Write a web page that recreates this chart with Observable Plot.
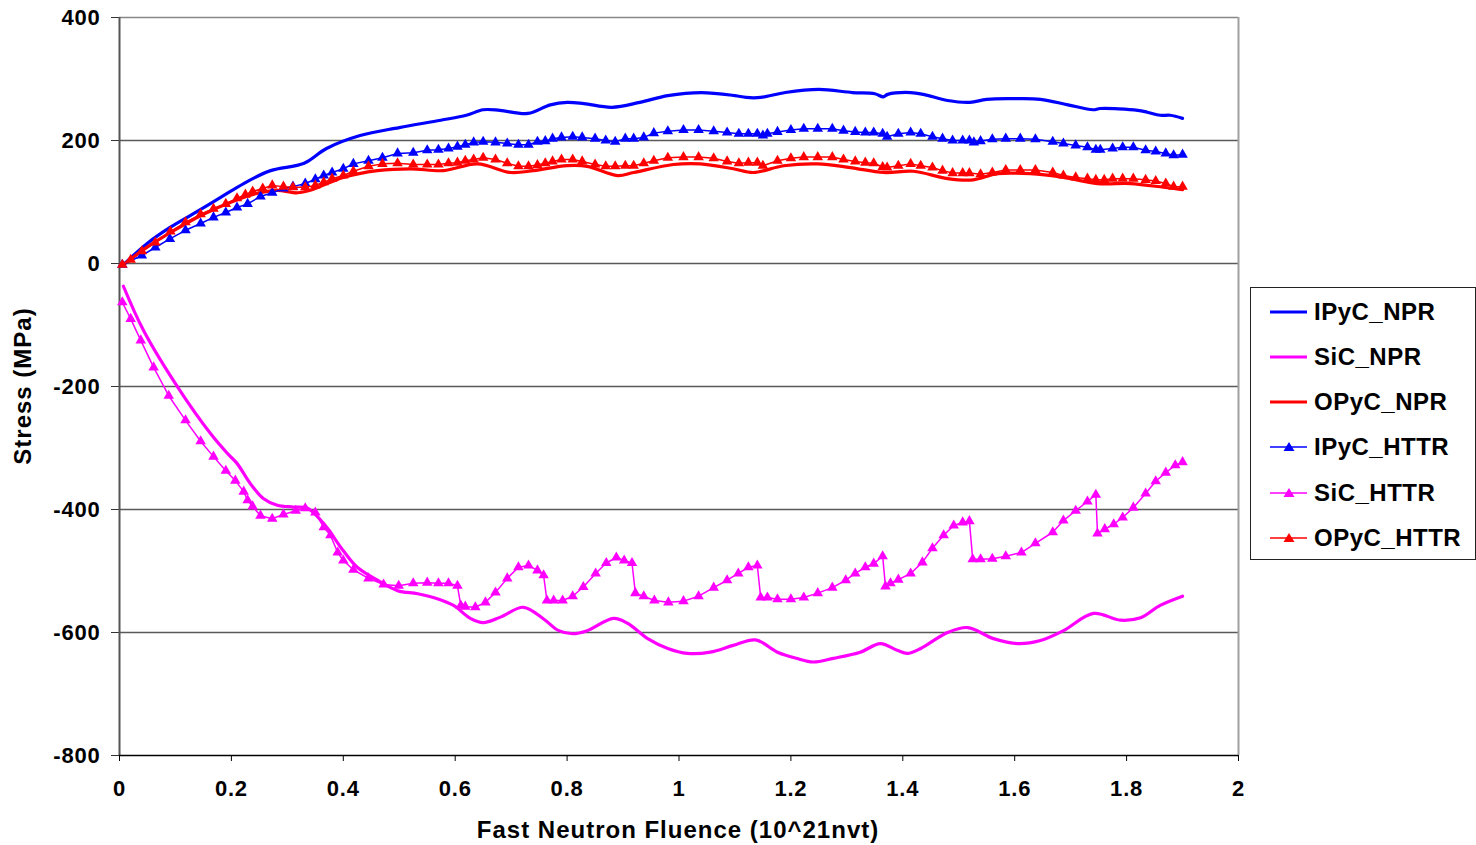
<!DOCTYPE html>
<html>
<head>
<meta charset="utf-8">
<script src="https://cdn.jsdelivr.net/npm/d3@7"></script>
<script src="https://cdn.jsdelivr.net/npm/@observablehq/plot@0.6"></script>
<style>
  body { margin: 0; background: #fff; }
  #wrap { position: relative; width: 1476px; height: 845px; font-family: "Liberation Sans", Arial, sans-serif; font-weight: bold; color: #000; }
  #chart { position: absolute; left: 0; top: 0; }
  .title { position: absolute; white-space: nowrap; font-size: 24px; line-height: 24px; letter-spacing: 1px; }
  #legend { position: absolute; left: 1250px; top: 287px; width: 224px; height: 271px; border: 1px solid #222; background: #fff; }
  .row { position: absolute; left: 19px; height: 30px; display: flex; align-items: center; font-size: 24px; letter-spacing: 0.5px; }
  .row svg { margin-right: 6px; }
</style>
</head>
<body>
<div id="wrap">
  <div id="chart"></div>
  <div class="title" id="xtitle" style="left:678px; top:818px; transform:translateX(-50%);">Fast Neutron Fluence (10^21nvt)</div>
  <div class="title" id="ytitle" style="left:23px; top:386px; transform:translate(-50%,-50%) rotate(-90deg);">Stress (MPa)</div>
  <div id="legend"></div>
</div>
<script>
// ---- data ----
const seriesNames = ["IPyC_NPR", "SiC_NPR", "OPyC_NPR", "IPyC_HTTR", "SiC_HTTR", "OPyC_HTTR"];
const seriesColors = ["#0000FF", "#FF00FF", "#FF0000", "#0000FF", "#FF00FF", "#FF0000"];
const xTicks = [0, 0.2, 0.4, 0.6, 0.8, 1, 1.2, 1.4, 1.6, 1.8, 2];
const yTicks = [-800, -600, -400, -200, 0, 200, 400];

const ipycNPR = [[0.007,-2],[0.05,33],[0.091,59],[0.13,80],[0.18,107],[0.222,130],[0.27,151],[0.33,163],[0.37,187],[0.43,208],[0.50,221],[0.574,233],[0.62,241],[0.65,250],[0.68,249],[0.73,244],[0.77,258],[0.80,262],[0.83,260],[0.88,254],[0.93,262],[0.98,273],[1.04,278],[1.10,273],[1.12,270],[1.146,270],[1.19,278],[1.25,283],[1.31,278],[1.35,276],[1.365,271],[1.373,275],[1.414,278],[1.437,275],[1.48,265],[1.52,262],[1.55,267],[1.60,268],[1.646,267],[1.695,258],[1.74,250],[1.753,252],[1.82,249],[1.837,246],[1.86,241],[1.878,241],[1.90,236]];

const sicNPR = [[0.007,-37],[0.043,-109],[0.104,-201],[0.163,-277],[0.193,-309],[0.21,-325],[0.234,-358],[0.257,-382],[0.282,-393],[0.311,-396],[0.336,-398],[0.365,-423],[0.40,-467],[0.425,-494],[0.461,-515],[0.497,-532],[0.533,-537],[0.568,-545],[0.597,-556],[0.627,-577],[0.65,-584],[0.681,-575],[0.722,-559],[0.758,-578],[0.785,-597],[0.81,-602],[0.836,-597],[0.883,-577],[0.908,-585],[0.944,-610],[0.98,-626],[1.015,-634],[1.056,-632],[1.097,-621],[1.137,-612],[1.176,-632],[1.21,-642],[1.24,-648],[1.276,-642],[1.324,-632],[1.36,-618],[1.39,-629],[1.408,-634],[1.432,-626],[1.48,-600],[1.516,-592],[1.562,-610],[1.605,-618],[1.646,-613],[1.687,-597],[1.741,-569],[1.789,-580],[1.825,-576],[1.86,-556],[1.90,-541]];

const opycNPR = [[0.007,-2],[0.05,27],[0.1,55],[0.15,80],[0.2,100],[0.25,115],[0.282,119],[0.318,115],[0.341,119],[0.40,140],[0.461,151],[0.52,154],[0.579,151],[0.64,162],[0.699,148],[0.74,151],[0.80,159],[0.836,158],[0.89,143],[0.919,148],[0.99,161],[1.038,162],[1.097,154],[1.133,148],[1.187,159],[1.248,162],[1.306,156],[1.366,148],[1.419,150],[1.48,138],[1.526,136],[1.569,146],[1.628,146],[1.687,140],[1.748,130],[1.807,130],[1.866,124],[1.90,120]];

const ipycHTTR = [[0.005,-2],[0.04,13],[0.064,26],[0.09,40],[0.118,54],[0.145,65],[0.168,75],[0.19,83],[0.21,91],[0.229,97],[0.252,109],[0.273,115],[0.293,122],[0.31,125],[0.332,130],[0.35,137],[0.365,143],[0.38,148],[0.40,154],[0.418,162],[0.445,167],[0.47,172],[0.497,179],[0.525,180],[0.55,184],[0.57,185],[0.588,187],[0.604,190],[0.618,193],[0.633,197],[0.65,198],[0.672,197],[0.693,195],[0.713,193],[0.731,193],[0.747,198],[0.761,199],[0.774,203],[0.79,205],[0.81,206],[0.827,205],[0.85,203],[0.869,200],[0.886,198],[0.904,203],[0.919,203],[0.937,205],[0.955,212],[0.98,215],[1.008,217],[1.035,217],[1.062,215],[1.086,213],[1.107,211],[1.124,211],[1.14,211],[1.15,208],[1.158,211],[1.176,214],[1.20,217],[1.223,219],[1.248,219],[1.274,219],[1.294,216],[1.315,214],[1.333,213],[1.348,213],[1.364,211],[1.372,206],[1.392,211],[1.414,213],[1.432,211],[1.453,206],[1.471,203],[1.489,200],[1.507,200],[1.519,200],[1.527,197],[1.539,199],[1.56,202],[1.584,203],[1.61,203],[1.637,202],[1.668,198],[1.687,195],[1.709,192],[1.73,189],[1.745,185],[1.753,185],[1.775,187],[1.793,189],[1.812,189],[1.834,184],[1.852,182],[1.87,179],[1.884,176],[1.90,177]];

const sicHTTR = [[0.005,-63],[0.02,-90],[0.038,-125],[0.061,-169],[0.088,-215],[0.118,-255],[0.145,-289],[0.168,-314],[0.19,-337],[0.207,-353],[0.222,-371],[0.229,-385],[0.238,-395],[0.252,-410],[0.273,-415],[0.293,-408],[0.315,-402],[0.332,-398],[0.35,-405],[0.365,-429],[0.377,-442],[0.39,-470],[0.40,-483],[0.418,-498],[0.445,-512],[0.472,-522],[0.499,-524],[0.525,-520],[0.55,-519],[0.57,-520],[0.588,-520],[0.604,-524],[0.61,-556],[0.618,-558],[0.636,-559],[0.654,-551],[0.672,-535],[0.693,-512],[0.713,-494],[0.731,-491],[0.747,-499],[0.758,-507],[0.764,-548],[0.776,-548],[0.792,-548],[0.81,-541],[0.829,-526],[0.851,-504],[0.87,-487],[0.888,-478],[0.902,-483],[0.916,-487],[0.922,-536],[0.937,-541],[0.956,-548],[0.981,-551],[1.008,-549],[1.035,-541],[1.062,-527],[1.086,-515],[1.106,-504],[1.124,-494],[1.14,-491],[1.146,-543],[1.158,-543],[1.176,-546],[1.2,-546],[1.223,-543],[1.248,-536],[1.274,-527],[1.298,-515],[1.315,-504],[1.333,-494],[1.348,-488],[1.364,-476],[1.369,-525],[1.378,-520],[1.392,-514],[1.414,-504],[1.435,-486],[1.453,-463],[1.473,-442],[1.491,-426],[1.507,-421],[1.519,-419],[1.525,-481],[1.539,-481],[1.56,-480],[1.584,-476],[1.612,-470],[1.637,-455],[1.668,-437],[1.687,-418],[1.709,-402],[1.73,-387],[1.745,-376],[1.748,-439],[1.761,-432],[1.777,-424],[1.793,-413],[1.812,-397],[1.834,-374],[1.852,-354],[1.87,-340],[1.887,-328],[1.90,-323]];

const opycHTTR = [[0.005,-2],[0.02,6],[0.04,20],[0.064,34],[0.091,52],[0.118,67],[0.145,80],[0.168,89],[0.19,97],[0.21,106],[0.225,112],[0.238,117],[0.256,122],[0.273,127],[0.293,125],[0.31,124],[0.332,124],[0.35,127],[0.365,132],[0.38,138],[0.40,143],[0.418,150],[0.445,158],[0.47,162],[0.497,163],[0.525,161],[0.55,161],[0.57,161],[0.588,163],[0.604,164],[0.618,167],[0.633,169],[0.65,172],[0.672,169],[0.693,163],[0.713,158],[0.731,158],[0.747,160],[0.761,163],[0.774,166],[0.79,169],[0.81,169],[0.827,166],[0.85,161],[0.869,158],[0.886,158],[0.904,159],[0.919,159],[0.937,163],[0.955,167],[0.98,172],[1.008,173],[1.035,173],[1.062,171],[1.086,166],[1.107,163],[1.124,164],[1.14,164],[1.15,159],[1.176,167],[1.20,171],[1.223,173],[1.248,173],[1.274,173],[1.294,169],[1.315,166],[1.333,164],[1.348,163],[1.364,157],[1.372,156],[1.392,159],[1.414,162],[1.432,159],[1.453,156],[1.471,151],[1.489,147],[1.507,147],[1.519,147],[1.539,145],[1.56,148],[1.584,152],[1.61,152],[1.637,152],[1.668,148],[1.687,143],[1.709,140],[1.73,138],[1.745,136],[1.76,136],[1.775,138],[1.793,138],[1.812,138],[1.834,136],[1.852,134],[1.87,130],[1.884,125],[1.90,125]];

const seriesData = [ipycNPR, sicNPR, opycNPR, ipycHTTR, sicHTTR, opycHTTR];

// ---- chart ----
const marks = [
  Plot.ruleY(yTicks.filter(v => v > -800 && v < 400), {stroke: "#5a5a5a", strokeWidth: 1.3}),
  Plot.ruleY([400], {stroke: "#888", strokeWidth: 1.3}),
  Plot.ruleX([2], {stroke: "#a0a0a0", strokeWidth: 2}),
  Plot.axisY({ticks: yTicks, tickSize: 8, tickPadding: 11, tickFormat: d => String(d), label: null, stroke: "#333", fill: "#000"}),
  Plot.axisX({ticks: xTicks, tickSize: 6, tickPadding: 19, tickFormat: d => String(d), label: null, stroke: "#000", fill: "#000"}),
  Plot.ruleX([0], {stroke: "#555", strokeWidth: 2}),
  Plot.ruleY([-800], {stroke: "#000", strokeWidth: 1.3})
];
seriesData.forEach((data, i) => {
  const isHTTR = seriesNames[i].endsWith("HTTR");
  marks.push(Plot.line(data, {x: d => d[0], y: d => d[1], stroke: seriesColors[i], strokeWidth: isHTTR ? 1.5 : 3.2, curve: isHTTR ? "linear" : "catmull-rom"}));
  if (isHTTR) marks.push(Plot.dot(data, {x: d => d[0], y: d => d[1], symbol: "triangle", r: 3.9, fill: seriesColors[i], stroke: "none"}));
});

const chart = Plot.plot({
  width: 1476,
  height: 845,
  marginLeft: 119,
  marginRight: 238,
  marginTop: 17,
  marginBottom: 90,
  x: {domain: [0, 2]},
  y: {domain: [-800, 400]},
  style: {fontFamily: "'Liberation Sans', Arial, sans-serif", fontSize: "22px", fontWeight: "bold", letterSpacing: "0.8px", color: "#000", background: "transparent"},
  marks
});
document.getElementById("chart").appendChild(chart);

// ---- legend ----
const legend = document.getElementById("legend");
const rowCenters = [24, 69, 114, 159, 205, 250];
seriesNames.forEach((name, i) => {
  const isHTTR = name.endsWith("HTTR");
  const row = document.createElement("div");
  row.className = "row";
  row.style.top = (rowCenters[i] - 15) + "px";
  const tri = isHTTR ? `<path d="M19,5 L24.5,14 L13.5,14 Z" fill="${seriesColors[i]}"/>` : "";
  row.innerHTML = `<svg width="38" height="20"><line x1="0" x2="37" y1="10" y2="10" stroke="${seriesColors[i]}" stroke-width="${isHTTR ? 1.5 : 3}"/>${tri}</svg><span>${name}</span>`;
  legend.appendChild(row);
});
</script>
</body>
</html>
